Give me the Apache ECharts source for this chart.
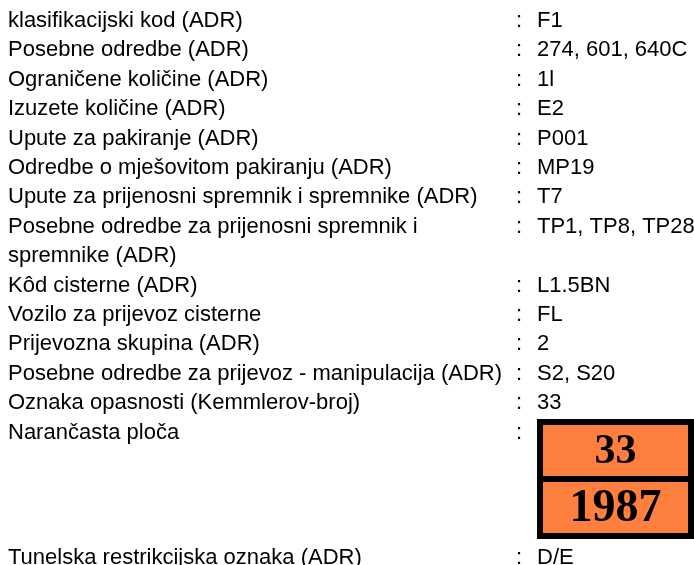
<!DOCTYPE html>
<html>
<head>
<meta charset="utf-8">
<script src="https://cdn.jsdelivr.net/npm/echarts@6/dist/echarts.min.js"></script>
<style>
  html, body { margin: 0; padding: 0; background: #fff; }
  #adrTable { width: 694px; height: 565px; }
</style>
</head>
<body>
<div id="adrTable"></div>
<script>
// ADR rows: label, value (a label may wrap onto a second line)
var labels = [
  'klasifikacijski kod (ADR)',
  'Posebne odredbe (ADR)',
  'Ograničene količine (ADR)',
  'Izuzete količine (ADR)',
  'Upute za pakiranje (ADR)',
  'Odredbe o mješovitom pakiranju (ADR)',
  'Upute za prijenosni spremnik i spremnike (ADR)',
  'Posebne odredbe za prijenosni spremnik i\nspremnike (ADR)',
  'Kôd cisterne (ADR)',
  'Vozilo za prijevoz cisterne',
  'Prijevozna skupina (ADR)',
  'Posebne odredbe za prijevoz - manipulacija (ADR)',
  'Oznaka opasnosti (Kemmlerov-broj)',
  'Narančasta ploča'
]
var values = [
  'F1',
  '274, 601, 640C',
  '1l',
  'E2',
  'P001',
  'MP19',
  'T7',
  'TP1, TP8, TP28',
  'L1.5BN',
  'FL',
  '2',
  'S2, S20',
  '33',
  ''
]
var plateNumbers = ['33', '1987']
var tunnelLabel = 'Tunelska restrikcijska oznaka (ADR)'
var tunnelValue = 'D/E'

var font = '22px "Liberation Sans", Arial, sans-serif'
var lineStep = 29.4
var firstY = 21
var labelX = 8
var colonX = 516
var valueX = 537

var elements = []
var line = 0
function addRow (label, value, y) {
  var nLines = label.split('\n').length
  elements.push({
    type: 'text',
    style: {
      text: label, x: labelX, y: y + (nLines - 1) * lineStep / 2,
      font: font, fill: '#000', verticalAlign: 'middle', lineHeight: lineStep
    }
  })
  elements.push({
    type: 'text',
    style: { text: ':', x: colonX, y: y, font: font, fill: '#000', verticalAlign: 'middle' }
  })
  if (value) {
    elements.push({
      type: 'text',
      style: { text: value, x: valueX, y: y, font: font, fill: '#000', verticalAlign: 'middle' }
    })
  }
  return nLines
}
labels.forEach(function (lab, i) {
  line += addRow(lab, values[i], firstY + line * lineStep)
})

// orange plate
var plateTop = 419
var plateLeft = 537
var plateW = 157
var plateH = 120
var border = 6
elements.push({
  type: 'rect',
  shape: { x: plateLeft, y: plateTop, width: plateW, height: plateH },
  style: { fill: '#000' }
})
var innerH = (plateH - border * 3) / 2
plateNumbers.forEach(function (num, i) {
  var top = plateTop + border + i * (innerH + border)
  elements.push({
    type: 'rect',
    shape: { x: plateLeft + border, y: top, width: plateW - border * 2, height: innerH },
    style: { fill: '#ff7f3f' }
  })
  elements.push({
    type: 'text',
    style: {
      text: num,
      x: plateLeft + plateW / 2,
      y: top + innerH / 2 + 2,
      font: 'bold ' + (i === 0 ? 42 : 46) + 'px "Liberation Serif", "Times New Roman", serif',
      fill: '#000',
      align: 'center',
      verticalAlign: 'middle'
    }
  })
})

addRow(tunnelLabel, tunnelValue, 558)

var chart = echarts.init(document.getElementById('adrTable'))
chart.setOption({
  backgroundColor: '#fff',
  animation: false,
  graphic: { elements: elements }
})
</script>
</body>
</html>
